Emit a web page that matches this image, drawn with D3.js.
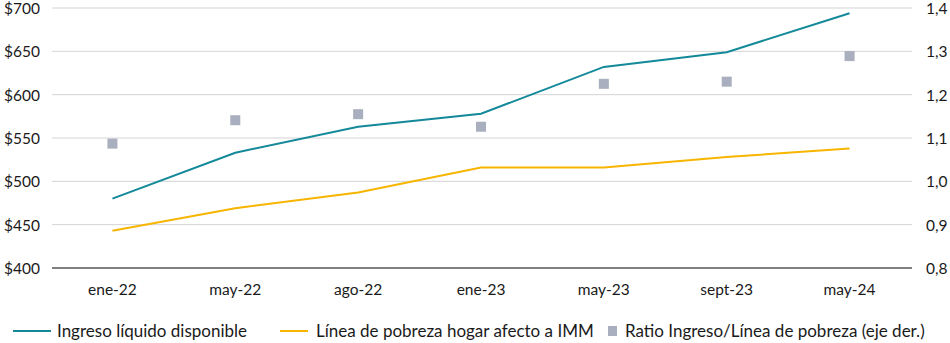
<!DOCTYPE html>
<html><head><meta charset="utf-8">
<script src="https://cdn.jsdelivr.net/npm/d3@7"></script>
<style>
body{margin:0;background:#fff;}
text{font-family:Lato, "Noto Sans", sans-serif;fill:#1a1a1a;}
</style></head>
<body><svg id="c" width="950" height="343"></svg>
<script>
const categories = ["ene-22","may-22","ago-22","ene-23","may-23","sept-23","may-24"];
const ingreso = [480, 533, 563, 578, 632, 649, 694];
const pobreza = [443, 469, 487, 516, 516, 528, 538];
const ratio = [1.087, 1.141, 1.155, 1.126, 1.225, 1.23, 1.289];
const leftTicks = [400, 450, 500, 550, 600, 650, 700];
const rightTicks = [0.8, 0.9, 1.0, 1.1, 1.2, 1.3, 1.4];
const seriesNames = ["Ingreso líquido disponible", "Línea de pobreza hogar afecto a IMM", "Ratio Ingreso/Línea de pobreza (eje der.)"];

const svg = d3.select("#c");
const L = 51, R = 911, T = 8, B = 268;
const x = d3.scaleBand().domain(categories).range([L, R]);
const yL = d3.scaleLinear().domain([400, 700]).range([B, T]);
const yR = d3.scaleLinear().domain([0.8, 1.4]).range([B, T]);
const cx = c => x(c) + x.bandwidth() / 2;

// gridlines
svg.append("g").selectAll("line").data(leftTicks.slice(1)).join("line")
  .attr("x1", L + 1).attr("x2", R + 1)
  .attr("y1", d => yL(d)).attr("y2", d => yL(d))
  .attr("stroke", "#d4d4d4").attr("stroke-width", 1);
// baseline
svg.append("line").attr("x1", L + 1).attr("x2", R + 1).attr("y1", B).attr("y2", B)
  .attr("stroke", "#808080").attr("stroke-width", 2);

// left axis
const gl = svg.append("g").attr("transform", `translate(${L - 8},0)`)
  .call(d3.axisLeft(yL).tickValues(leftTicks).tickSize(0).tickFormat(d => "$" + d));
gl.select(".domain").remove();
gl.selectAll("text").attr("font-size", 15.5).attr("dx", 0).attr("dy", "0.35em");

// right axis
const gr = svg.append("g").attr("transform", `translate(${R + 12},0)`)
  .call(d3.axisRight(yR).tickValues(rightTicks).tickSize(0).tickFormat(d => d3.format(".1f")(d).replace(".", ",")));
gr.select(".domain").remove();
gr.selectAll("text").attr("font-size", 15.5).attr("dy", "0.35em");

// x axis
const gx = svg.append("g").attr("transform", `translate(0,${B + 13})`)
  .call(d3.axisBottom(x).tickSize(0));
gx.select(".domain").remove();
gx.selectAll("text").attr("font-size", 15.5).attr("dy", "0.71em");

// lines
const lineL = d3.line().x((d, i) => cx(categories[i])).y(d => yL(d));
svg.append("path").datum(ingreso).attr("d", lineL).attr("fill", "none")
  .attr("stroke", "#14899a").attr("stroke-width", 2);
svg.append("path").datum(pobreza).attr("d", lineL).attr("fill", "none")
  .attr("stroke", "#f7b500").attr("stroke-width", 2);

// ratio squares
svg.append("g").selectAll("rect").data(ratio).join("rect")
  .attr("x", (d, i) => cx(categories[i]) - 5).attr("y", d => yR(d) - 5)
  .attr("width", 10).attr("height", 10).attr("fill", "#a9afbe");

// legend
const lg = svg.append("g");
const ly = 331;
const fs = 17;
lg.append("line").attr("x1", 13).attr("x2", 51).attr("y1", ly).attr("y2", ly).attr("stroke", "#14899a").attr("stroke-width", 2);
lg.append("text").attr("x", 57).attr("y", ly).attr("dy", "0.35em").attr("font-size", fs).text(seriesNames[0]);
lg.append("line").attr("x1", 280).attr("x2", 308).attr("y1", ly).attr("y2", ly).attr("stroke", "#f7b500").attr("stroke-width", 2);
lg.append("text").attr("x", 316).attr("y", ly).attr("dy", "0.35em").attr("font-size", fs).text(seriesNames[1]);
lg.append("rect").attr("x", 608).attr("y", ly - 5).attr("width", 9).attr("height", 10).attr("fill", "#a9afbe");
lg.append("text").attr("x", 625).attr("y", ly).attr("dy", "0.35em").attr("font-size", fs).text(seriesNames[2]);
</script></body></html>
